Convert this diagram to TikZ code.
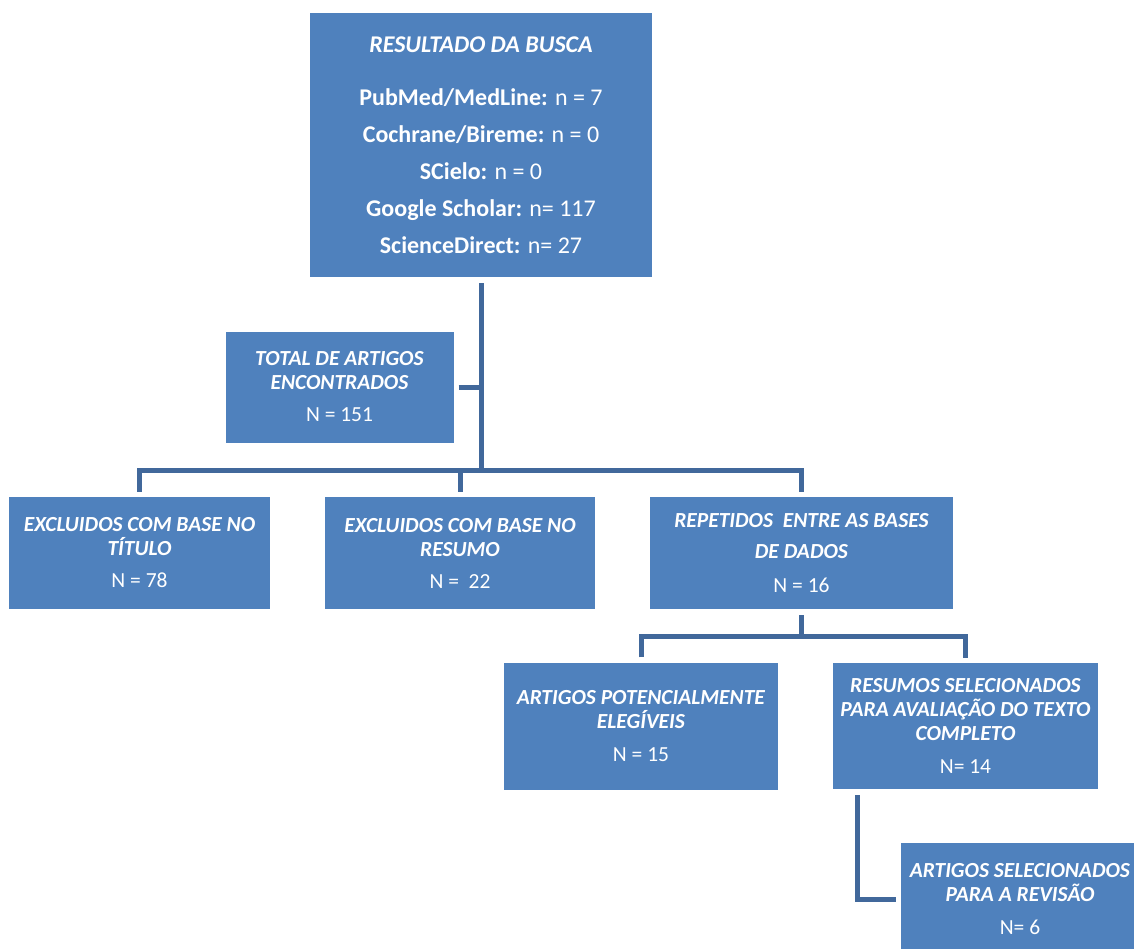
\documentclass[tikz,border=0pt]{standalone}
\usepackage{fontspec}
\setmainfont{Carlito}
\usetikzlibrary{calc}
\definecolor{boxblue}{HTML}{4F81BD}
\definecolor{lineblue}{HTML}{41689B}
\tikzset{
	box/.style={rectangle, fill=boxblue, text=white, inner sep=0pt, align=center, font=\fontsize{21.5}{24}\selectfont},
	bigbox/.style={box, font=\fontsize{24}{29}\selectfont},
	link/.style={line width=5pt, color=lineblue},
}
\newcommand{\ttl}[1]{\textbf{\textit{#1}}}

\begin{document}
\begin{tikzpicture}[x=1pt, y=-1pt]
			%%%%% START %%%%%
			\clip (0, 0) rectangle (1134, 949);
			
			\node[bigbox, minimum width=342pt, minimum height=264pt] (res) at (481, 145) {\ttl{RESULTADO DA BUSCA}\\[24pt]
				\textbf{PubMed/MedLine:} n = 7\\[8pt]
				\textbf{Cochrane/Bireme:} n = 0\\[8pt]
				\textbf{SCielo:} n = 0\\[8pt]
				\textbf{Google Scholar:} n= 117\\[8pt]
				\textbf{ScienceDirect:} n= 27};
			
			\node[box, minimum width=228pt, minimum height=111pt] (total) at (339.5, 387) {\ttl{TOTAL DE ARTIGOS}\\\ttl{ENCONTRADOS}\\[8pt]N = 151};
			
			\node[box, minimum width=261pt, minimum height=112pt] (excl1) at (139.5, 553) {\ttl{EXCLUIDOS COM BASE NO}\\\ttl{TÍTULO}\\[8pt]N = 78};
			\node[box, minimum width=270pt, minimum height=112pt] (excl2) at (460, 553) {\ttl{EXCLUIDOS COM BASE NO}\\\ttl{RESUMO}\\[8pt]N =\ \ 22};
			\node[box, minimum width=303pt, minimum height=112pt] (rep) at (801.5, 553) {\ttl{REPETIDOS\ \ ENTRE AS BASES}\\[7pt]\ttl{DE DADOS}\\[10pt]N = 16};
			
			\node[box, minimum width=274pt, minimum height=127pt] (pot) at (641, 726) {\ttl{ARTIGOS POTENCIALMENTE}\\\ttl{ELEGÍVEIS}\\[9pt]N = 15};
			\node[box, minimum width=265pt, minimum height=126pt] (sel) at (965.5, 726) {\ttl{RESUMOS SELECIONADOS}\\\ttl{PARA AVALIAÇÃO DO TEXTO}\\\ttl{COMPLETO}\\[9pt]N= 14};
			
			\node[box, minimum width=238pt, minimum height=112pt] (rev) at (1020, 899) {\ttl{ARTIGOS SELECIONADOS}\\\ttl{PARA A REVISÃO}\\[9pt]N= 6};
			
			% first level
			\coordinate (hub) at (481, 470);
			\draw[link] ([yshift=-6pt]res.south) -- (hub);
			\draw[link] ([xshift=5pt]total.east) -- (total.east -| hub);
			\draw[link] ([yshift=5pt]excl1.north) |- (hub) -| ([yshift=5pt]rep.north);
			\draw[link] ([yshift=5pt]excl2.north) -- (excl2.north |- hub);
			
			% second level
			\coordinate (hub2) at (801.5, 636);
			\draw[link] ([yshift=-6pt]rep.south) -- (hub2);
			\draw[link] ([yshift=5pt]pot.north) |- (hub2) -| ([yshift=5pt]sel.north);
			\draw[link] ([xshift=-108pt, yshift=-6pt]sel.south) |- ([xshift=-5pt]rev.west);
			
			%%%%% END %%%%%
\end{tikzpicture}
\end{document}
